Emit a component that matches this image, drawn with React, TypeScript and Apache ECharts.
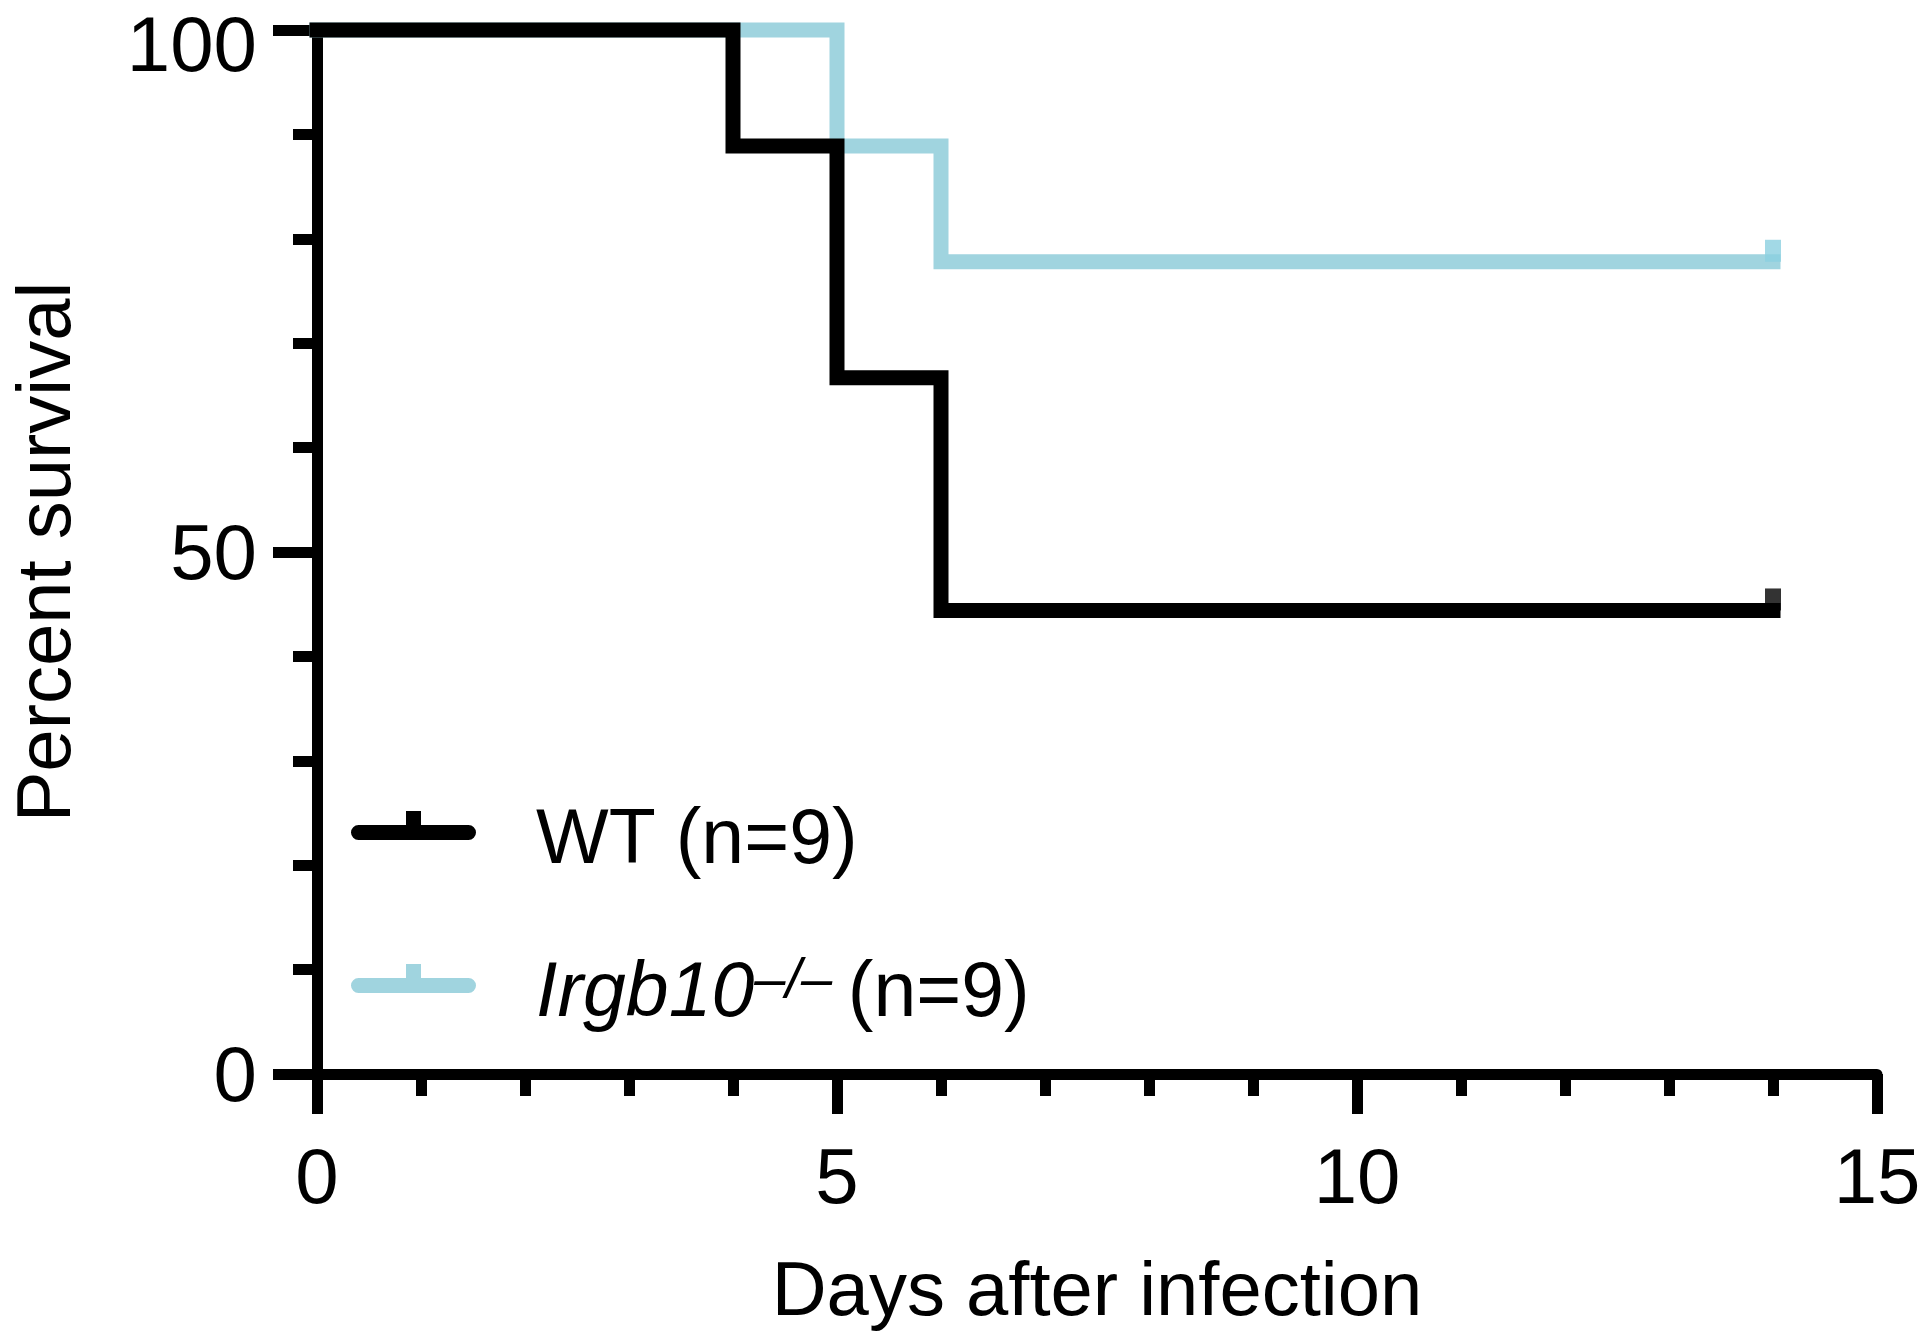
import { useEffect, useRef } from 'react'
import * as echarts from 'echarts'

// Kaplan-Meier steps (day, percent surviving after that day)
const wtDays     = [0, 4, 5, 6, 14]
const wtSurvival = [100, 88.9, 66.7, 44.4, 44.4]
const koDays     = [0, 5, 6, 14]
const koSurvival = [100, 88.9, 77.8, 77.8]

// censored at end of follow-up
const wtCensor = [[14, 44.4]]
const koCensor = [[14, 77.8]]

const legendNames  = ['WT', 'Irgb10']
const legendLabels: Record<string, string> = {
  WT:     'WT (n=9)',
  Irgb10: '{i|Irgb10}{s|–/– }(n=9)',
}

const FONT  = '"Liberation Sans", Arial, Helvetica, sans-serif'
const BLACK = '#000000'
const BLUE  = '#a0d4df'
const BLUE_TICK = '#8bcfe0'

// rounded bar with a censor tick on top; lone points pad the box so the text sits right
const legendIcon =
  'path://M0,0 L0,0.01 M7.5,14 H117.5 A7.5,7.5 0 0 1 117.5,29 H7.5 A7.5,7.5 0 0 1 7.5,14 Z ' +
  'M55,0 H70 V15 H55 Z M180,50 L179.99,50'

export default function App() {
  const ref = useRef<HTMLDivElement>(null)

  useEffect(() => {
    if (!ref.current) return
    document.body.style.margin = '0'
    const chart = echarts.init(ref.current, null, { renderer: 'svg' })

    const axisCommon = {
      axisLine:  { show: true, onZero: false, lineStyle: { color: BLACK, width: 11 } },
      splitLine: { show: false },
      axisLabel: { color: BLACK, fontSize: 78, fontFamily: FONT },
    }

    chart.setOption({
      animation: false,
      backgroundColor: '#ffffff',
      grid: { left: 317, right: 43, top: 30, bottom: 257, outerBoundsMode: 'none' },
      xAxis: {
        ...axisCommon,
        type: 'value',
        min: 0, max: 15, interval: 5,
        axisTick:  { show: true, length: 40, lineStyle: { color: BLACK, width: 11 } },
        minorTick: { show: true, splitNumber: 5, length: 22, lineStyle: { color: BLACK, width: 11 } },
        axisLabel: { ...axisCommon.axisLabel, margin: 63 },
        name: 'Days after infection',
        nameLocation: 'middle',
        nameGap: 179,
        nameTextStyle: { color: BLACK, fontSize: 76, fontFamily: FONT, lineHeight: 70 },
      },
      yAxis: {
        ...axisCommon,
        type: 'value',
        min: 0, max: 100, interval: 50,
        axisTick:  { show: true, length: 44, lineStyle: { color: BLACK, width: 11 } },
        minorTick: { show: true, splitNumber: 5, length: 24, lineStyle: { color: BLACK, width: 11 } },
        axisLabel: {
          ...axisCommon.axisLabel,
          margin: 60,
          lineHeight: 50,
          // top label nudged down so it stays inside the page
          formatter: (v: number) => (v === 100 ? `{top|${v}}` : String(v)),
          rich: { top: { fontSize: 78, fontFamily: FONT, color: BLACK, lineHeight: 50, padding: [28, 0, 0, 0] } },
        },
        name: 'Percent survival',
        nameLocation: 'middle',
        nameGap: 242,
        nameTextStyle: { color: BLACK, fontSize: 76, fontFamily: FONT, lineHeight: 64 },
      },
      legend: {
        data: legendNames,
        orient: 'vertical',
        left: 351,
        top: 796,
        padding: 0,
        itemWidth: 180,
        itemHeight: 50,
        itemGap: 73,
        icon: legendIcon,
        selectedMode: false,
        itemStyle: { borderWidth: 0 },
        formatter: (name: string) => legendLabels[name] ?? name,
        textStyle: {
          color: BLACK, fontSize: 77, fontFamily: FONT, lineHeight: 80,
          rich: {
            i: { fontStyle: 'italic', fontSize: 77, fontFamily: FONT, color: BLACK, lineHeight: 80 },
            s: { fontStyle: 'italic', fontSize: 56, fontFamily: FONT, color: BLACK, lineHeight: 31, verticalAlign: 'top' },
          },
        },
      },
      series: [
        {
          name: 'Irgb10',
          type: 'line',
          step: 'end',
          data: koDays.map((d, i) => [d, koSurvival[i]]),
          symbol: 'none',
          showSymbol: false,
          clip: false,
          z: 2,
          itemStyle: { color: BLUE },
          lineStyle: { color: BLUE, width: 15, cap: 'square', join: 'miter' },
        },
        {
          name: 'WT',
          type: 'line',
          step: 'end',
          data: wtDays.map((d, i) => [d, wtSurvival[i]]),
          symbol: 'none',
          showSymbol: false,
          clip: false,
          z: 3,
          itemStyle: { color: BLACK },
          lineStyle: { color: BLACK, width: 15, cap: 'square', join: 'miter' },
        },
        {
          name: 'Irgb10 censored',
          type: 'scatter',
          data: koCensor,
          symbol: 'rect',
          symbolSize: [16, 22],
          symbolOffset: [0, -11],
          clip: false,
          silent: true,
          z: 4,
          itemStyle: { color: BLUE_TICK },
        },
        {
          name: 'WT censored',
          type: 'scatter',
          data: wtCensor,
          symbol: 'rect',
          symbolSize: [16, 22],
          symbolOffset: [0, -11],
          clip: false,
          silent: true,
          z: 4,
          itemStyle: { color: BLACK },
        },
      ],
    })

    return () => { chart.dispose() }
  }, [])

  return (
    <div
      ref={ref}
      style={{ position: 'fixed', left: 0, top: 0, width: 1920, height: 1331, background: '#fff' }}
    />
  )
}
